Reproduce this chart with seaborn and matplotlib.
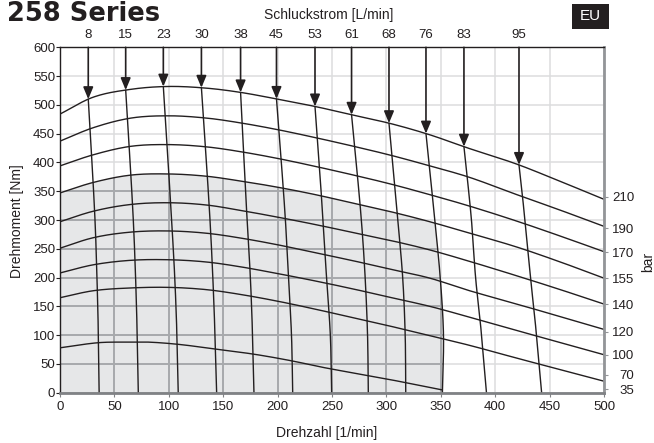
import numpy as np
import pandas as pd
import matplotlib
matplotlib.use("Agg")
import matplotlib.pyplot as plt
from matplotlib.patches import Polygon, Rectangle
import seaborn as sns

# ---- torque curves at constant pressure [Nm] over speed [1/min] ----
speed_grid = [0, 30, 65, 100, 135, 165, 200, 235, 270, 305, 340, 375, 420, 460, 500]
torque_210 = [484, 513, 527, 532, 529, 522, 510, 497, 482, 467, 448, 425, 397, 367, 336]
torque_190 = [437, 460, 477, 481, 477, 469, 457, 443, 428, 412, 394, 375, 344, 317, 289]
torque_170 = [394, 413, 428, 431, 427, 419, 407, 393, 378, 362, 344, 325, 298, 272, 245]
torque_155 = [347, 365, 378, 380, 376, 368, 357, 344, 329, 314, 297, 278, 253, 227, 199]
torque_140 = [297, 315, 327, 330, 326, 317, 305, 292, 278, 264, 248, 229, 203, 179, 154]
torque_120 = [251, 269, 279, 281, 277, 269, 257, 243, 229, 214, 199, 178, 154, 132, 110]
torque_100 = [208, 222, 230, 231, 227, 219, 207, 194, 180, 165, 150, 132, 108, 87, 66]
torque_70 = [165, 177, 182, 183, 179, 171, 159, 145, 130, 115, 99, 83, 60, 40, 20]
speed_35 = [0, 36, 60, 80, 109, 144, 178, 214, 239, 300, 351]
torque_35 = [78, 87, 88, 88, 84, 75.5, 67, 55, 45, 24, 5]

pressure_labels = ["210", "190", "170", "155", "140", "120", "100", "70", "35"]

# ---- constant-flow lines [L/min]: speed at the top curve and at 300/200/100/0 Nm ----
flow_labels = ["8", "15", "23", "30", "38", "45", "53", "61", "68", "76", "83", "95"]
flow_speed_top = [26, 60.4, 95, 130, 166, 199, 234.4, 268, 302.4, 336.4, 371.3, 421.9]
flow_speed_300 = [32.2, 67.4, 102.6, 137.9, 172, 207.2, 241.8, 277, 310.5, 344.5, 378.2, 427.4]
flow_speed_200 = [34, 69.5, 105.5, 140.5, 175, 210, 245, 280.5, 315, 349.5, 382, 432.5]
flow_speed_100 = [35.3, 71, 107.5, 142.5, 177, 212.8, 248.5, 282.7, 317.3, 352.5, 387.5, 438]
flow_speed_0 = [36, 72, 108.7, 144, 178.3, 213.9, 249.7, 283.4, 317.8, 351.5, 392, 442.7]
boundary_flow = "76"       # flow line closing the shaded field
boundary_pressure = "155"  # pressure curve topping the shaded field

INK = "#231f20"
FILL = "#e6e7e8"


def smooth(x, y, n=300):
    """Cubic Hermite curve through the given points."""
    x = np.asarray(x, float)
    y = np.asarray(y, float)
    d = np.diff(y) / np.diff(x)
    m = np.empty_like(y)
    m[0], m[-1] = d[0], d[-1]
    m[1:-1] = (d[:-1] + d[1:]) / 2
    xs = np.linspace(x[0], x[-1], n)
    i = np.clip(np.searchsorted(x, xs, side="right") - 1, 0, len(x) - 2)
    h = x[i + 1] - x[i]
    t = (xs - x[i]) / h
    h00 = 2 * t**3 - 3 * t**2 + 1
    h10 = t**3 - 2 * t**2 + t
    h01 = -2 * t**3 + 3 * t**2
    h11 = t**3 - t**2
    ys = h00 * y[i] + h10 * h * m[i] + h01 * y[i + 1] + h11 * h * m[i + 1]
    return xs, ys


sns.set_theme(style="white")
plt.rcParams["font.family"] = ["Liberation Sans", "DejaVu Sans"]

fig = plt.figure(figsize=(6.54, 4.43), dpi=100)
ax = fig.add_axes([0.0917, 0.1135, 0.8318, 0.7797])
ax.set_xlim(0, 500)
ax.set_ylim(0, 600)

# pressure curves
pressure_curves = {
    "210": (speed_grid, torque_210),
    "190": (speed_grid, torque_190),
    "170": (speed_grid, torque_170),
    "155": (speed_grid, torque_155),
    "140": (speed_grid, torque_140),
    "120": (speed_grid, torque_120),
    "100": (speed_grid, torque_100),
    "70": (speed_grid, torque_70),
    "35": (speed_35, torque_35),
}
dense_p = {k: smooth(*v) for k, v in pressure_curves.items()}
top_x, top_y = dense_p["210"]

# flow lines (speed as a function of torque)
dense_f = {}
arrow_tips = {}
for lab, s_top, s300, s200, s100, s0 in zip(flow_labels, flow_speed_top, flow_speed_300,
                                           flow_speed_200, flow_speed_100, flow_speed_0):
    t_top = float(np.interp(s_top, top_x, top_y))
    tt, ss = smooth([0, 100, 200, 300, t_top], [s0, s100, s200, s300, s_top])
    dense_f[lab] = (ss, tt)
    arrow_tips[lab] = (s_top, t_top)

# shaded operating field
px, py = dense_p[boundary_pressure]
fx, ft = dense_f[boundary_flow]
lim = np.interp(py, ft, fx)
keep = px <= lim
cx, cy = px[keep], py[keep]
t_cut = cy[-1]
sel = ft <= t_cut
edge_x, edge_t = fx[sel][::-1], ft[sel][::-1]
verts = [(0, 0)] + list(zip(cx, cy)) + list(zip(edge_x, edge_t)) + [(edge_x[-1], 0)]
field = Polygon(verts, closed=True, facecolor=FILL, edgecolor="none", zorder=0.5)
ax.add_patch(field)

# grid: light everywhere, darker inside the shaded field
xt = np.arange(0, 501, 50)
yt = np.arange(0, 601, 50)
for v in xt:
    ax.axvline(v, color="#dcddde", lw=1.1, zorder=0.3)
    ln = ax.axvline(v, color="#a7a9ac", lw=1.4, zorder=0.7)
    ln.set_clip_path(field)
for v in yt:
    ax.axhline(v, color="#dcddde", lw=1.1, zorder=0.3)
    ln = ax.axhline(v, color="#a7a9ac", lw=1.4, zorder=0.7)
    ln.set_clip_path(field)

rows = []
for k, (xs, ys) in dense_p.items():
    rows.append(pd.DataFrame({"n": xs, "M": ys, "curve": "p" + k}))
for k, (xs, ys) in dense_f.items():
    rows.append(pd.DataFrame({"n": xs, "M": ys, "curve": "q" + k}))
df = pd.concat(rows, ignore_index=True)
sns.lineplot(data=df, x="n", y="M", units="curve", estimator=None, sort=False,
             color=INK, lw=1.0, ax=ax, zorder=2)

# arrows and flow labels
for lab in flow_labels:
    sx, st = arrow_tips[lab]
    ax.annotate("", xy=(sx, st), xytext=(sx, 600),
                arrowprops=dict(arrowstyle="-|>,head_length=0.6,head_width=0.25",
                                color=INK, lw=1.2, shrinkA=0, shrinkB=0,
                                mutation_scale=12), zorder=3)
    ax.annotate(lab, xy=(sx, 600), xytext=(0, 8.9), textcoords="offset points",
                ha="center", va="center", fontsize=9.5, color=INK,
                annotation_clip=False)

# axes styling
ax.set_xticks(xt)
ax.set_yticks(yt)
ax.set_xlabel("")
ax.set_ylabel("")
ax.tick_params(axis="y", direction="out", length=3, width=0.8, color=INK,
               pad=0.5, labelsize=9.5, labelcolor=INK, left=True)
ax.tick_params(axis="x", direction="out", length=3, width=0.8, color="#808285",
               pad=3, labelsize=9.5, labelcolor=INK, bottom=True)
for side, col, w in [("top", INK, 1.0), ("left", INK, 1.0),
                     ("bottom", "#808285", 2.0), ("right", "#939598", 2.0)]:
    ax.spines[side].set_visible(True)
    ax.spines[side].set_color(col)
    ax.spines[side].set_linewidth(w)
    ax.spines[side].set_zorder(4)

# pressure labels on the right
bar_label_y = [340, 286, 244, 199, 154, 106, 66, 31, 6]
ax2 = ax.twinx()
ax2.set_ylim(0, 600)
ax2.set_yticks(bar_label_y)
ax2.set_yticklabels(pressure_labels)
ax2.tick_params(axis="y", direction="out", length=3, width=0.8, color="#939598",
                pad=18.7, labelsize=9.5, labelcolor=INK, right=True)
for t in ax2.get_yticklabels():
    t.set_horizontalalignment("right")
for s in ax2.spines.values():
    s.set_visible(False)
ax2.grid(False)

# texts around the chart
fig.text(17.5 / 654, 1 - 221 / 443, "Drehmoment [Nm]", rotation=90, ha="center",
         va="center", fontsize=10, color=INK)
fig.text(326.5 / 654, 1 - 433.5 / 443, "Drehzahl [1/min]", ha="center", va="center",
         fontsize=10, color=INK)
fig.text(648 / 654, 1 - 262 / 443, "bar", rotation=90, ha="center", va="center",
         fontsize=10, color=INK)
fig.text(329 / 654, 1 - 15.5 / 443, "Schluckstrom [L/min]", ha="center", va="center",
         fontsize=10, color=INK)
fig.text(7 / 654, 1 - 20.7 / 443, "258 Series", ha="left", va="baseline",
         fontsize=18.5, fontweight="bold", family="DejaVu Sans", color=INK)
fig.patches.append(Rectangle((572 / 654, 1 - 29 / 443), 37 / 654, 25 / 443,
                             transform=fig.transFigure, facecolor=INK,
                             edgecolor="none"))
fig.text(590.5 / 654, 1 - 16.5 / 443, "EU", ha="center", va="center",
         fontsize=11, color="white")

fig.savefig("out.png", dpi=100)
